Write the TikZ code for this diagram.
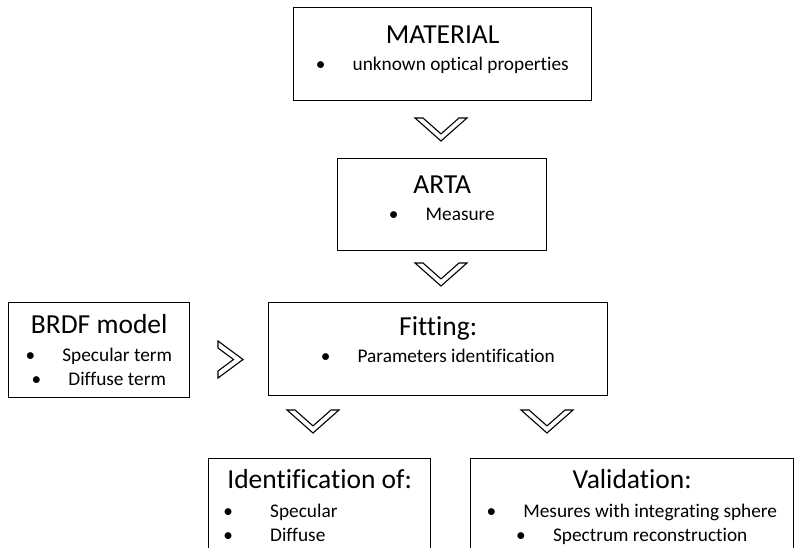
\documentclass[tikz,border=0pt]{standalone}
\usepackage{fontspec}
\setmainfont{Carlito}[Ligatures={NoCommon,NoRequired,NoContextual}]
\usetikzlibrary{positioning,calc}

\newcommand{\bitem}[2][28pt]{\makebox[8pt]{\textbullet}\hspace{#1}#2}
\newcommand{\downchevron}[1]{%
  \draw[chevron] (#1) ++(-26,0) -- ++(26,23) -- ++(26,-23) -- ++(-8,0)
    -- ++(-18,15.9) -- ++(-18,-15.9) -- cycle;}

\begin{document}
\begin{tikzpicture}[x=1pt, y=-1pt,
  stagebox/.style={draw, line width=1.4pt, inner sep=0pt, anchor=north west},
  titlelabel/.style={inner sep=0pt, font=\fontsize{27.5}{32}\selectfont,
    text height=19pt, text depth=6pt},
  itemlabel/.style={inner sep=0pt, font=\fontsize{19.3}{24}\selectfont},
  chevron/.style={draw, line width=1.1pt, fill=white, line join=miter}]

    \clip (0,0) rectangle (800,547);

    % MATERIAL
    \node[stagebox, minimum width=298pt, minimum height=93pt] (material) at (293,7) {};
    \node[titlelabel, below=17pt of material.north] (materialT) {MATERIAL};
    \node[itemlabel, below=4pt of materialT] (materialL) {
    \begin{tabular}{c}
    \bitem{unknown optical properties}
    \end{tabular}
    };

    % ----------

    \node[stagebox, minimum width=209pt, minimum height=92pt] (arta) at (337,158) {};
    \node[titlelabel, below=16pt of arta.north] (artaT) {ARTA};
    \node[itemlabel, below=4pt of artaT] (artaL) {
    \begin{tabular}{c}
    \bitem{Measure}
    \end{tabular}
    };

    % ----------

    \node[stagebox, minimum width=339pt, minimum height=93pt] (fitting) at (268,302) {};
    \node[titlelabel, below=14pt of fitting.north] (fittingT) {Fitting:};
    \node[itemlabel, below=4pt of fittingT] (fittingL) {
    \begin{tabular}{c}
    \bitem{Parameters identification}
    \end{tabular}
    };

    % ----------

    \node[stagebox, minimum width=181pt, minimum height=95pt] (brdf) at (8,302) {};
    \node[titlelabel, below=12pt of brdf.north] (brdfT) {BRDF model};
    \node[itemlabel, below=5pt of brdfT] (brdfL) {
    \begin{tabular}{c}
    \bitem{Specular term}\\
    \bitem{Diffuse term}
    \end{tabular}
    };

    % ----------

    \node[stagebox, minimum width=222pt, minimum height=130pt] (ident) at (208,458) {};
    \node[titlelabel, below=11pt of ident.north] (identT) {Identification of:};
    \node[itemlabel, anchor=north west] (identL) at ($(identT.south -| ident.west)+(16,6)$) {
    \begin{tabular}{@{}l@{}}
    \bitem[38pt]{Specular}\\
    \bitem[38pt]{Diffuse}
    \end{tabular}
    };

    % ----------

    \node[stagebox, minimum width=323pt, minimum height=130pt] (valid) at (470,458) {};
    \node[titlelabel, below=11pt of valid.north] (validT) {Validation:};
    \node[itemlabel, below=6pt of validT] (validL) {
    \begin{tabular}{c}
    \bitem{Mesures with integrating sphere}\\
    \bitem{Spectrum reconstruction}
    \end{tabular}
    };

    % chevrons
    \coordinate (chevA) at (441,118);
    \coordinate (chevB) at (441,263);
    \coordinate (chevC) at (313,410);
    \coordinate (chevD) at (547,410);
    \coordinate (chevE) at (218,341);

    \downchevron{chevA}
    \downchevron{chevB}
    \downchevron{chevC}
    \downchevron{chevD}
    \draw[chevron] (chevE) -- ++(25,18.5) -- ++(-25,18.5) -- ++(0,-7)
      -- ++(15.5,-11.5) -- ++(-15.5,-11.5) -- cycle;

\end{tikzpicture}
\end{document}
